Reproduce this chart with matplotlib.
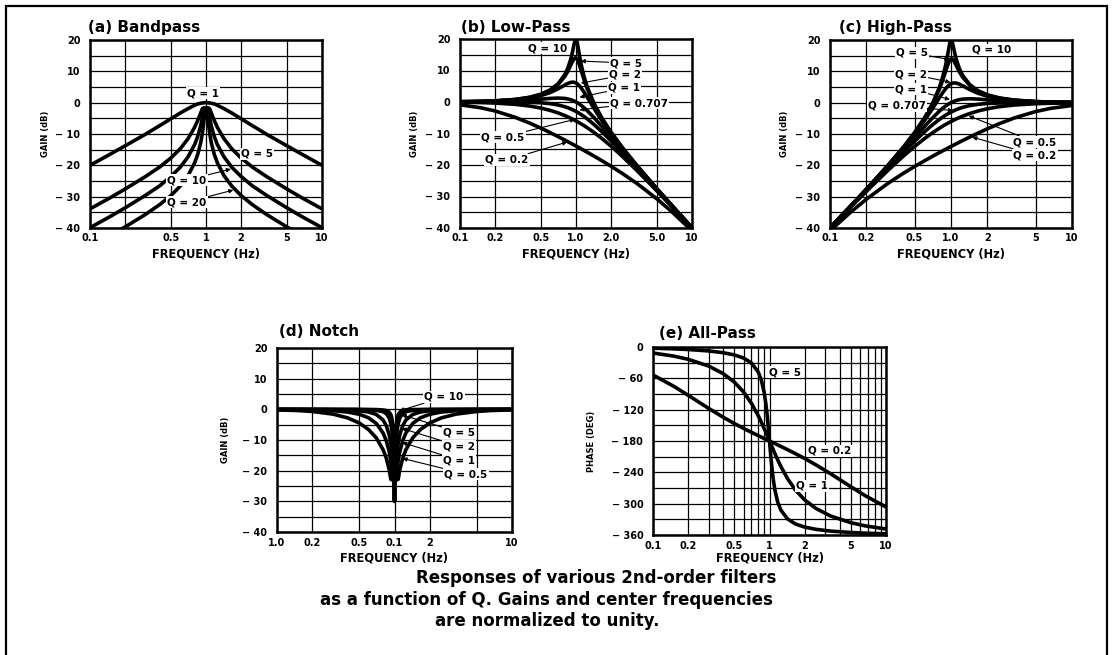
import matplotlib
matplotlib.use('Agg')
import matplotlib.pyplot as plt
from matplotlib.patches import Rectangle
from matplotlib.ticker import NullLocator

plt.rcParams['font.family'] = 'DejaVu Sans'
plt.rcParams['font.weight'] = 'bold'

# frequency points (Hz) shared by every curve
FREQ = [0.1, 0.15, 0.2, 0.3, 0.4, 0.5, 0.6, 0.7, 0.8, 0.85, 0.9, 0.93, 0.95, 0.97, 0.98, 0.99, 1.0,
        1.01, 1.02, 1.031, 1.053, 1.075, 1.111, 1.176, 1.25, 1.429, 1.667, 2.0, 2.5, 3.333, 5.0, 6.667, 10.0]

# (a) bandpass gain, dB
BP_Q1 = [-20.0, -16.4, -13.8, -10.1, -7.3, -5.1, -3.3, -1.9, -0.8, -0.4, -0.2, -0.1, -0.05, -0.02, -0.01, 0.0, 0.0,
         0.0, -0.01, -0.02, -0.05, -0.1, -0.2, -0.4, -0.8, -1.9, -3.3, -5.1, -7.3, -10.1, -13.8, -16.4, -20.0]
BP_Q5 = [-33.9, -30.3, -27.6, -23.6, -20.5, -17.6, -14.7, -11.5, -7.8, -5.6, -3.3, -1.9, -1.7, -1.7, -1.7, -1.7, -1.7,
         -1.7, -1.7, -1.7, -1.7, -1.9, -3.3, -5.6, -7.8, -11.5, -14.7, -17.6, -20.5, -23.6, -27.6, -30.3, -33.9]
BP_Q10 = [-39.9, -36.3, -33.6, -29.6, -26.5, -23.5, -20.6, -17.3, -13.3, -10.7, -7.4, -4.9, -3.1, -1.8, -1.7, -1.7, -1.7,
          -1.7, -1.7, -1.8, -3.1, -4.9, -7.4, -10.7, -13.3, -17.3, -20.6, -23.5, -26.5, -29.6, -33.6, -36.3, -39.9]
BP_Q20 = [-45.9, -42.3, -39.7, -35.7, -32.5, -29.6, -26.6, -23.3, -19.1, -16.4, -12.8, -9.8, -7.2, -4.0, -2.2, -1.7, -1.7,
          -1.7, -2.2, -4.0, -7.2, -9.8, -12.8, -16.4, -19.1, -23.3, -26.6, -29.6, -32.5, -35.7, -39.7, -42.3, -45.9]

# (b) low-pass gain, dB
LP_Q10 = [0.09, 0.2, 0.35, 0.81, 1.5, 2.48, 3.84, 5.77, 8.66, 10.75, 13.55, 15.7, 17.32, 18.89, 19.52, 19.92, 20.0,
          19.74, 19.2, 18.36, 16.4, 14.47, 11.72, 7.94, 4.79, -0.44, -5.04, -9.56, -14.41, -20.1, -27.61, -32.76, -39.91]
LP_Q5 = [0.09, 0.19, 0.35, 0.8, 1.48, 2.42, 3.73, 5.53, 8.09, 9.75, 11.64, 12.77, 13.41, 13.86, 13.98, 14.02, 13.98,
         13.85, 13.64, 13.33, 12.5, 11.52, 9.82, 6.95, 4.21, -0.67, -5.15, -9.62, -14.44, -20.11, -27.61, -32.76, -39.91]
LP_Q2 = [0.08, 0.17, 0.31, 0.7, 1.28, 2.04, 3.01, 4.17, 5.38, 5.89, 6.22, 6.3, 6.29, 6.22, 6.17, 6.1, 6.02,
         5.93, 5.82, 5.69, 5.39, 5.04, 4.4, 3.08, 1.51, -2.03, -5.86, -10.0, -14.64, -20.21, -27.65, -32.79, -39.92]
LP_Q1 = [0.04, 0.1, 0.17, 0.37, 0.63, 0.9, 1.14, 1.25, 1.14, 0.97, 0.73, 0.54, 0.4, 0.25, 0.17, 0.09, 0.0,
         -0.09, -0.18, -0.28, -0.5, -0.72, -1.1, -1.85, -2.74, -4.95, -7.74, -11.14, -15.29, -20.54, -27.79, -32.86, -39.96]
LP_Q0707 = [0.0, 0.0, -0.01, -0.04, -0.11, -0.26, -0.53, -0.93, -1.49, -1.82, -2.19, -2.43, -2.59, -2.75, -2.84, -2.92, -3.01,
            -3.1, -3.19, -3.28, -3.48, -3.68, -4.02, -4.64, -5.37, -7.13, -9.41, -12.3, -16.03, -20.95, -27.97, -32.96, -40.0]
LP_Q05 = [-0.09, -0.19, -0.34, -0.75, -1.29, -1.94, -2.67, -3.46, -4.3, -4.72, -5.15, -5.41, -5.59, -5.76, -5.85, -5.93, -6.02,
          -6.11, -6.2, -6.29, -6.48, -6.67, -6.98, -7.54, -8.17, -9.66, -11.55, -13.98, -17.21, -21.66, -28.3, -33.15, -40.09]
LP_Q02 = [-0.9, -1.81, -2.84, -4.88, -6.73, -8.33, -9.74, -10.97, -12.08, -12.59, -13.07, -13.35, -13.54, -13.72, -13.8, -13.89, -13.98,
          -14.07, -14.15, -14.25, -14.43, -14.61, -14.9, -15.41, -15.95, -17.17, -18.61, -20.37, -22.64, -25.8, -30.8, -34.77, -40.9]

# (c) high-pass gain, dB
HP_Q10 = [-39.91, -32.76, -27.61, -20.1, -14.41, -9.56, -5.04, -0.44, 4.79, 7.94, 11.72, 14.47, 16.4, 18.36, 19.2, 19.74, 20.0,
          19.92, 19.52, 18.89, 17.32, 15.7, 13.55, 10.75, 8.66, 5.77, 3.84, 2.48, 1.5, 0.81, 0.35, 0.2, 0.09]
HP_Q5 = [-39.91, -32.76, -27.61, -20.11, -14.44, -9.62, -5.15, -0.67, 4.21, 6.95, 9.82, 11.52, 12.5, 13.33, 13.64, 13.85, 13.98,
         14.02, 13.98, 13.86, 13.41, 12.77, 11.64, 9.75, 8.09, 5.53, 3.73, 2.42, 1.48, 0.8, 0.35, 0.19, 0.09]
HP_Q2 = [-39.92, -32.79, -27.65, -20.21, -14.64, -10.0, -5.86, -2.03, 1.51, 3.08, 4.4, 5.04, 5.39, 5.69, 5.82, 5.93, 6.02,
         6.1, 6.17, 6.22, 6.29, 6.3, 6.22, 5.89, 5.38, 4.17, 3.01, 2.04, 1.28, 0.7, 0.31, 0.17, 0.08]
HP_Q1 = [-39.96, -32.86, -27.79, -20.54, -15.29, -11.14, -7.74, -4.95, -2.74, -1.85, -1.1, -0.72, -0.5, -0.28, -0.18, -0.09, 0.0,
         0.09, 0.17, 0.25, 0.4, 0.54, 0.73, 0.97, 1.14, 1.25, 1.14, 0.9, 0.63, 0.37, 0.17, 0.1, 0.04]
HP_Q0707 = [-40.0, -32.96, -27.97, -20.95, -16.03, -12.3, -9.41, -7.13, -5.37, -4.64, -4.02, -3.68, -3.48, -3.28, -3.19, -3.1, -3.01,
            -2.92, -2.84, -2.75, -2.59, -2.43, -2.19, -1.82, -1.49, -0.93, -0.53, -0.26, -0.11, -0.04, -0.01, 0.0, 0.0]
HP_Q05 = [-40.09, -33.15, -28.3, -21.66, -17.21, -13.98, -11.55, -9.66, -8.17, -7.54, -6.98, -6.67, -6.48, -6.29, -6.2, -6.11, -6.02,
          -5.93, -5.85, -5.76, -5.59, -5.41, -5.15, -4.72, -4.3, -3.46, -2.67, -1.94, -1.29, -0.75, -0.34, -0.19, -0.09]
HP_Q02 = [-40.9, -34.77, -30.8, -25.8, -22.64, -20.37, -18.61, -17.17, -15.95, -15.41, -14.9, -14.61, -14.43, -14.25, -14.15, -14.07, -13.98,
          -13.89, -13.8, -13.72, -13.54, -13.35, -13.07, -12.59, -12.08, -10.97, -9.74, -8.33, -6.73, -4.88, -2.84, -1.81, -0.9]

# (d) notch gain, dB
NT_Q05 = [-0.17, -0.39, -0.7, -1.57, -2.8, -4.44, -6.55, -9.31, -13.17, -15.86, -19.58, -22.8, -23.0, -23.0, -23.0, -23.0, -30.0,
          -23.0, -23.0, -23.0, -23.0, -22.8, -19.58, -15.86, -13.17, -9.31, -6.55, -4.44, -2.8, -1.57, -0.7, -0.39, -0.17]
NT_Q1 = [-0.04, -0.1, -0.19, -0.45, -0.89, -1.6, -2.74, -4.6, -7.74, -10.16, -13.7, -16.85, -19.82, -23.0, -23.0, -23.0, -30.0,
         -23.0, -23.0, -23.0, -19.82, -16.85, -13.7, -10.16, -7.74, -4.6, -2.74, -1.6, -0.89, -0.45, -0.19, -0.1, -0.04]
NT_Q2 = [-0.01, -0.03, -0.05, -0.12, -0.24, -0.46, -0.86, -1.68, -3.49, -5.25, -8.2, -11.09, -13.93, -18.35, -21.88, -23.0, -30.0,
         -23.0, -21.88, -18.35, -13.93, -11.09, -8.2, -5.25, -3.49, -1.68, -0.86, -0.46, -0.24, -0.12, -0.05, -0.03, -0.01]
NT_Q5 = [0.0, 0.0, -0.01, -0.02, -0.04, -0.08, -0.15, -0.32, -0.78, -1.38, -2.78, -4.62, -6.81, -10.71, -14.07, -20.0, -23.0,
         -20.0, -14.07, -10.71, -6.81, -4.62, -2.78, -1.38, -0.78, -0.32, -0.15, -0.08, -0.04, -0.02, -0.01, 0.0, 0.0]
NT_Q10 = [0.0, 0.0, 0.0, -0.01, -0.01, -0.02, -0.04, -0.08, -0.21, -0.39, -0.88, -1.68, -2.9, -5.68, -8.53, -14.11, -23.0,
          -14.11, -8.53, -5.68, -2.9, -1.68, -0.88, -0.39, -0.21, -0.08, -0.04, -0.02, -0.01, -0.01, 0.0, 0.0, 0.0]

# (e) all-pass phase, degrees
AP_Q02 = [-53.6, -75.0, -92.3, -117.5, -134.4, -146.6, -155.9, -163.4, -169.7, -172.5, -175.2, -176.7, -177.6, -178.6, -179.1, -179.5, -180.0,
          -180.5, -180.9, -181.4, -182.4, -183.3, -184.8, -187.5, -190.3, -196.6, -204.1, -213.4, -225.6, -242.5, -267.7, -285.0, -306.4]
AP_Q1 = [-11.5, -17.4, -23.5, -36.5, -50.9, -67.4, -86.3, -107.8, -131.5, -143.8, -156.2, -163.5, -168.3, -173.0, -175.4, -177.7, -180.0,
         -182.3, -184.6, -187.0, -191.7, -196.5, -203.8, -216.2, -228.5, -252.2, -273.7, -292.6, -309.1, -323.5, -336.5, -342.6, -348.5]
AP_Q5 = [-2.3, -3.5, -4.8, -7.5, -10.9, -15.2, -21.2, -30.7, -47.9, -63.0, -86.9, -108.0, -125.7, -146.1, -157.2, -168.5, -180.0,
         -191.5, -202.8, -213.9, -234.3, -252.0, -273.1, -297.0, -312.1, -329.3, -338.8, -344.8, -349.1, -352.5, -355.2, -356.5, -357.7]

W, H = 1114, 655
LW = 2.6

fig = plt.figure(figsize=(W / 100, H / 100), dpi=100)


def add_axes_px(left, top, right, bottom):
    return fig.add_axes([left / W, 1 - bottom / H, (right - left) / W, (bottom - top) / H])


def ylab(v, step):
    if v % step:
        return ''
    if v == 0:
        return '0'
    return str(v) if v > 0 else '\u2212 ' + str(-v)


def setup(ax, xticks, xlabels, ylim, ystep, ylabel, title, title_pos, ylabel_x, xlabel_y, xpad):
    ax.set_xscale('log')
    ax.set_xlim(0.1, 10)
    ax.set_xticks(xticks, xlabels)
    ax.xaxis.set_minor_locator(NullLocator())
    lo, hi = ylim
    yt = list(range(lo, hi + 1, ystep // 2))
    ax.set_yticks(yt, [ylab(v, ystep) for v in yt])
    ax.set_ylim(lo, hi)
    ax.grid(True, color='black', lw=0.9)
    ax.set_axisbelow(True)
    ax.tick_params(length=0, labelsize=7)
    ax.tick_params(axis='x', pad=xpad)
    ax.tick_params(axis='y', pad=7)
    for s in ax.spines.values():
        s.set_linewidth(1.8)
    ax.text(title_pos[0], title_pos[1], title, transform=ax.transAxes,
            fontsize=11, ha='left', va='center')
    ax.text(ylabel_x, 0.5, ylabel, transform=ax.transAxes, rotation=90,
            fontsize=6, ha='center', va='center')
    ax.text(0.5, xlabel_y, 'FREQUENCY (Hz)', transform=ax.transAxes,
            fontsize=8.3, ha='center', va='center')


def label(ax, text, pos, tip=None):
    kw = dict(fontsize=7.5, ha='center', va='center', zorder=6,
              bbox=dict(boxstyle='square,pad=0.12', fc='white', ec='none'))
    if tip is None:
        ax.text(pos[0], pos[1], text, transform=ax.transAxes, **kw)
    else:
        ax.annotate(text, xy=tip, xycoords='data', xytext=pos, textcoords='axes fraction',
                    arrowprops=dict(arrowstyle='-|>', color='black', lw=0.8,
                                    mutation_scale=6, shrinkA=0, shrinkB=0), **kw)


grid_pos = [0.1, 0.2, 0.5, 1, 2, 5, 10]

# (a) Bandpass
ax = add_axes_px(90, 40, 322, 228)
setup(ax, grid_pos, ['0.1', '', '0.5', '1', '2', '5', '10'], (-40, 20), 10, 'GAIN (dB)',
      '(a) Bandpass', (-0.01, 1.069), -0.19, -0.138, 3.5)
for g in [BP_Q1, BP_Q5, BP_Q10, BP_Q20]:
    ax.plot(FREQ, g, color='black', lw=LW, solid_capstyle='butt')
label(ax, 'Q = 1', (0.487, 0.718))
label(ax, 'Q = 5', (0.72, 0.394))
label(ax, 'Q = 10', (0.418, 0.255), (1.64, -21.2))
label(ax, 'Q = 20', (0.418, 0.138), (1.72, -27.9))

# (b) Low-Pass
ax = add_axes_px(460, 39, 692, 228)
setup(ax, grid_pos, ['0.1', '0.2', '0.5', '1.0', '2.0', '5.0', '10'], (-40, 20), 10, 'GAIN (dB)',
      '(b) Low-Pass', (0.004, 1.063), -0.194, -0.138, 3.5)
for g in [LP_Q10, LP_Q5, LP_Q2, LP_Q1, LP_Q0707, LP_Q05, LP_Q02]:
    ax.plot(FREQ, g, color='black', lw=LW, solid_capstyle='butt')
label(ax, 'Q = 10', (0.379, 0.952))
label(ax, 'Q = 5', (0.716, 0.873), (1.1, 13.0))
label(ax, 'Q = 2', (0.711, 0.81), (1.1, 6.0))
label(ax, 'Q = 1', (0.707, 0.741), (1.07, 1.5))
label(ax, 'Q = 0.707', (0.772, 0.661), (1.07, -2.5))
label(ax, 'Q = 0.5', (0.185, 0.481), (0.98, -5.5))
label(ax, 'Q = 0.2', (0.203, 0.36), (0.84, -12.7))

# (c) High-Pass
ax = add_axes_px(830, 40, 1072, 228)
setup(ax, grid_pos, ['0.1', '0.2', '0.5', '1.0', '2', '5', '10'], (-40, 20), 10, 'GAIN (dB)',
      '(c) High-Pass', (0.037, 1.069), -0.186, -0.138, 3.5)
for g in [HP_Q10, HP_Q5, HP_Q2, HP_Q1, HP_Q0707, HP_Q05, HP_Q02]:
    ax.plot(FREQ, g, color='black', lw=LW, solid_capstyle='butt')
label(ax, 'Q = 5', (0.339, 0.931), (0.97, 13.8))
label(ax, 'Q = 10', (0.669, 0.947))
label(ax, 'Q = 2', (0.335, 0.819), (0.99, 6.5))
label(ax, 'Q = 1', (0.335, 0.739), (0.98, 1.0))
label(ax, 'Q = 0.707', (0.277, 0.649), (1.04, -2.5))
label(ax, 'Q = 0.5', (0.847, 0.457), (1.4, -4.2))
label(ax, 'Q = 0.2', (0.847, 0.388), (1.5, -11.0))

# (d) Notch
ax = add_axes_px(277, 348, 512, 532)
setup(ax, [0.1, 0.2, 0.5, 1, 2, 5, 10], ['1.0', '0.2', '0.5', '0.1', '2', '', '10'], (-40, 20), 10,
      'GAIN (dB)', '(d) Notch', (0.009, 1.092), -0.221, -0.141, 4.5)
for g in [NT_Q05, NT_Q1, NT_Q2, NT_Q5, NT_Q10]:
    ax.plot(FREQ, g, color='black', lw=LW, solid_capstyle='butt')
label(ax, 'Q = 10', (0.711, 0.734), (1.1, -0.5))
label(ax, 'Q = 5', (0.774, 0.543), (1.15, -1.8))
label(ax, 'Q = 2', (0.774, 0.467), (1.15, -6.2))
label(ax, 'Q = 1', (0.774, 0.391), (1.16, -10.8))
label(ax, 'Q = 0.5', (0.804, 0.315), (1.17, -16.0))

# (e) All-Pass
ax = add_axes_px(653, 347, 886, 535)
ap_grid = [m * d for d in (0.1, 1) for m in range(1, 10)] + [10]
ap_names = {0.1: '0.1', 0.2: '0.2', 0.5: '0.5', 1: '1', 2: '2', 5: '5', 10: '10'}
ap_labels = []
for t in ap_grid:
    key = round(t, 3)
    ap_labels.append(next((v for k, v in ap_names.items() if abs(k - key) < 1e-6), ''))
setup(ax, ap_grid, ap_labels, (-360, 0), 60, 'PHASE (DEG)',
      '(e) All-Pass', (0.026, 1.074), -0.262, -0.122, 4.5)
for g in [AP_Q02, AP_Q1, AP_Q5]:
    ax.plot(FREQ, g, color='black', lw=LW, solid_capstyle='butt')
label(ax, 'Q = 5', (0.567, 0.867))
label(ax, 'Q = 0.2', (0.76, 0.447))
label(ax, 'Q = 1', (0.682, 0.261))

# caption
fig.text(596 / W, 1 - 578 / H, 'Responses of various 2nd-order filters', fontsize=12, ha='center', va='center')
fig.text(546 / W, 1 - 600 / H, 'as a function of Q. Gains and center frequencies', fontsize=12, ha='center', va='center')
fig.text(547 / W, 1 - 621 / H, 'are normalized to unity.', fontsize=12, ha='center', va='center')

# outer frame, open at the bottom edge of the picture
fig.add_artist(Rectangle((6 / W, -0.05), (1107 - 6) / W, 1 - 6 / H + 0.05, transform=fig.transFigure,
                         fill=False, ec='black', lw=1.6, clip_on=False))

fig.savefig('out.png', dpi=100)
